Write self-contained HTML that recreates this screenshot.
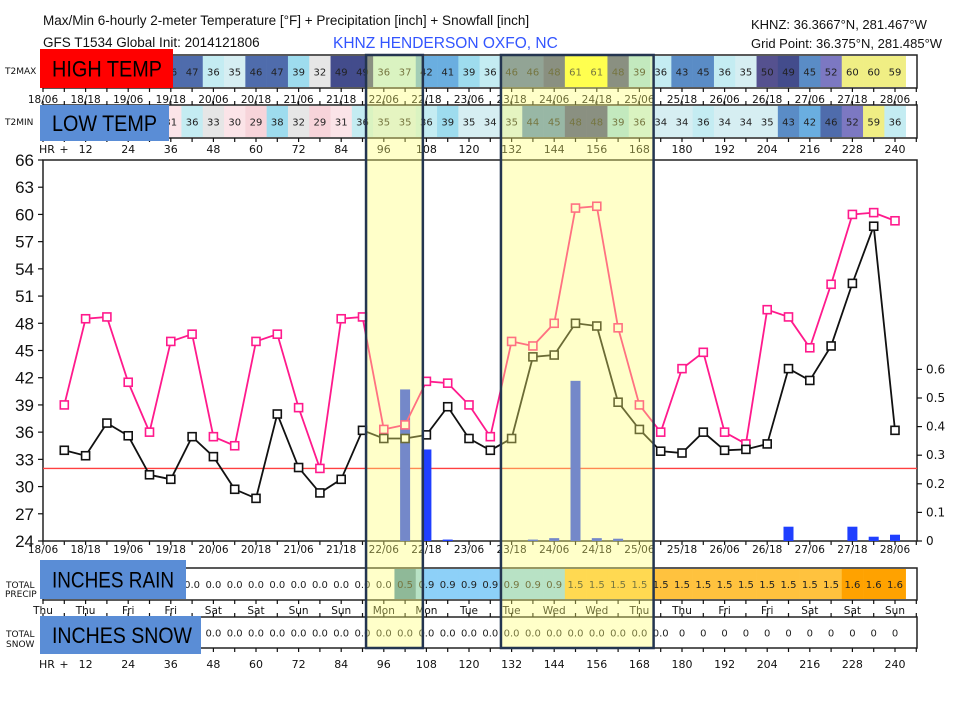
<!DOCTYPE html>
<html><head><meta charset="utf-8">
<style>
html,body{margin:0;padding:0;background:#fff;}
svg{display:block;font-family:"DejaVu Sans","Liberation Sans",sans-serif;}
.lbl{font-family:"Liberation Sans",sans-serif;}
</style></head>
<body>
<svg id="chart" width="960" height="720" viewBox="0 0 960 720">
<text class="lbl" x="43" y="25" font-size="13.5" fill="#111">Max/Min 6-hourly 2-meter Temperature [°F] + Precipitation [inch] + Snowfall [inch]</text>
<text class="lbl" x="43" y="47" font-size="13.5" fill="#111">GFS T1534 Global Init: 2014121806</text>
<line x1="40" y1="50" x2="173" y2="50" stroke="#d00" stroke-width="1.5"/>
<text class="lbl" x="333" y="48" font-size="15.5" fill="#3355ff">KHNZ HENDERSON OXFO, NC</text>
<text class="lbl" x="751" y="29" font-size="13" fill="#111">KHNZ: 36.3667°N, 281.467°W</text>
<text class="lbl" x="751" y="48" font-size="13" fill="#111">Grid Point: 36.375°N, 281.485°W</text>
<g id="g"></g>
</svg>
<script>
const hours=[6,12,18,24,30,36,42,48,54,60,66,72,78,84,90,96,102,108,114,120,126,132,138,144,150,156,162,168,174,180,186,192,198,204,210,216,222,228,234,240];
const tMax=[39,48.5,48.7,41.5,36,46,46.8,35.5,34.5,46,46.8,38.7,32,48.5,48.7,36.3,36.8,41.6,41.4,39,35.5,46,45.5,48,60.7,60.9,47.5,39,36,43,44.8,36,34.7,49.5,48.7,45.3,52.3,60,60.2,59.3];
const tMin=[34,33.4,37,35.6,31.3,30.8,35.5,33.3,29.7,28.7,38,32.1,29.3,30.8,36.2,35.3,35.3,35.7,38.8,35.3,34,35.3,44.3,44.5,48,47.7,39.3,36.3,33.9,33.7,36,34,34.1,34.7,43,41.7,45.5,52.4,58.7,36.2];
const precipTotal=[0,0,0,0,0,0,0,0,0,0,0,0,0,0,0,0,0.5,0.9,0.9,0.9,0.9,0.9,0.9,0.9,1.5,1.5,1.5,1.5,1.5,1.5,1.5,1.5,1.5,1.5,1.5,1.5,1.5,1.6,1.6,1.6];
const snowTotal=[0,0,0,0,0,0,0,0,0,0,0,0,0,0,0,0,0,0,0,0,0,0,0,0,0,0,0,0,0,0,0,0,0,0,0,0,0,0,0,0];
const barHours=[102,108,114,138,144,150,156,162,210,228,234,240];
const barVals=[0.53,0.32,0.005,0.005,0.01,0.56,0.01,0.008,0.05,0.05,0.015,0.022];
const yTicks=[24,27,30,33,36,39,42,45,48,51,54,57,60,63,66];
const pTicks=[0,0.1,0.2,0.3,0.4,0.5,0.6];
const dateLabels=["18/06","18/18","19/06","19/18","20/06","20/18","21/06","21/18","22/06","22/18","23/06","23/18","24/06","24/18","25/06","25/18","26/06","26/18","27/06","27/18","28/06"];
const dayLabels=["Thu","Thu","Fri","Fri","Sat","Sat","Sun","Sun","Mon","Mon","Tue","Tue","Wed","Wed","Thu","Thu","Fri","Fri","Sat","Sat","Sun"];
const highlights=[[91,107],[129,172]];

const NS="http://www.w3.org/2000/svg";
const G=document.getElementById('g');
const X0=43,X1=917,PT=160,PB=541;
const xh=h=>X0+h*3.55;
const yT=t=>PB-(t-24)*(PB-PT)/42;
const yP=p=>PB-p*286;
function mk(tag,attrs,parent){const e=document.createElementNS(NS,tag);for(const k in attrs)e.setAttribute(k,attrs[k]);(parent||G).appendChild(e);return e;}
function txt(x,y,s,size,anchor,fill,parent){const e=mk('text',{x:x,y:y,'font-size':size,'text-anchor':anchor||'middle',fill:fill||'#111'},parent);e.textContent=s;return e;}

function tColor(v){v=Math.round(v);
 if(v<=29)return'#f7d4da';if(v<=31)return'#fbe4e8';if(v<=33)return'#e6e6e6';if(v<=35)return'#d6eef2';
 if(v<=37)return'#c4ecf2';if(v<=40)return'#9edcee';if(v<=42)return'#6aaee0';if(v<=45)return'#5a8cc6';
 if(v<=47)return'#4f6cac';if(v<=49)return'#434c8c';if(v<=51)return'#55518f';if(v<=53)return'#7c78c2';
 if(v<=60)return'#f0ee84';return'#ffff3a';}
function pColor(v){if(v<0.1)return'#ffffff';if(v<0.7)return'#4b8fb0';if(v<1.2)return'#8dd0f8';if(v<1.55)return'#ffc23e';return'#ffa200';}

function strip(y0,h,vals,colorFn,fmt,name){
 const box=mk('rect',{x:X0,y:y0,width:X1-X0,height:h,fill:'#fff',stroke:'#222','stroke-width':1.5});
 
 
 hours.forEach((hr,i)=>{
  const c=mk('rect',{x:xh(hr-3),y:y0+1,width:3.55*6+0.3,height:h-2,fill:colorFn(vals[i])});
  
  
  txt(xh(hr),y0+h/2+4,fmt(vals[i],hr),10,'middle','#222');
 });
}
function ticksRow(y,dir){for(let hr=0;hr<=246;hr+=6){mk('line',{x1:xh(hr),x2:xh(hr),y1:y,y2:y+dir*4,stroke:'#111','stroke-width':1.2});}}

strip(55,33,tMax,tColor,v=>Math.round(v),'t2max');
strip(105,33,tMin,tColor,v=>Math.round(v),'t2min');
strip(568,32,precipTotal,pColor,v=>v.toFixed(1),'precip');
strip(617,31,snowTotal,()=>'#fff',(v,hr)=>hr<=174?v.toFixed(1):'0','snow');
[88,138,541,600,648].forEach(y=>ticksRow(y,1));
[105,617].forEach(y=>ticksRow(y,-1));

txt(5,74,'T2MAX',9,'start');txt(5,125,'T2MIN',9,'start');
txt(6,588,'TOTAL',9,'start');txt(5,597,'PRECIP',9,'start');
txt(6,637,'TOTAL',9,'start');txt(6,647,'SNOW',9,'start');
dateLabels.forEach((s,i)=>{txt(xh(i*12),103,s,10.5);txt(xh(i*12),553,s,10.5);});
dayLabels.forEach((s,i)=>txt(xh(i*12),614,s,10.5));
[149,664].forEach(y=>{txt(39,y+4,'HR',11,'start');txt(64,y+4,'+',11);
 for(let hr=12;hr<=240;hr+=12)txt(xh(hr),y+4,String(hr),11);});

const frame=mk('rect',{x:X0,y:PT,width:X1-X0,height:PB-PT,fill:'#fff',stroke:'#222','stroke-width':1.5});


yTicks.forEach(v=>{mk('line',{x1:X0-5,x2:X0,y1:yT(v),y2:yT(v),stroke:'#111','stroke-width':1.2});
 const t=txt(34,yT(v)+6,String(v),17,'end','#111');t.setAttribute('class','lbl');
 });
pTicks.forEach(v=>{mk('line',{x1:X1,x2:X1+5,y1:yP(v),y2:yP(v),stroke:'#111','stroke-width':1.2});
 const t=txt(926,yP(v)+4,v===0?'0':v.toFixed(1),12,'start','#111');
 });

const fz=mk('line',{x1:X0,x2:X1,y1:yT(32),y2:yT(32),stroke:'#ff4040','stroke-width':1.3});



barHours.forEach((hr,i)=>{
 const b=mk('rect',{x:xh(hr)-5,y:yP(barVals[i]),width:10,height:PB-yP(barVals[i]),fill:'#1f3fff'});
 
 
});

function series(vals,color,name){
 const pts=hours.map((hr,i)=>xh(hr)+','+yT(vals[i])).join(' ');
 const pl=mk('polyline',{points:pts,fill:'none',stroke:color,'stroke-width':1.8});
 
 
 hours.forEach((hr,i)=>{
  const m=mk('rect',{x:xh(hr)-4,y:yT(vals[i])-4,width:8,height:8,fill:'#fff',stroke:color,'stroke-width':1.6});
  
  
 });
}
series(tMax,'#ff1a8c','max-temp');
series(tMin,'#111','min-temp');

highlights.forEach(([a,b])=>{
 const r=mk('rect',{x:xh(a),y:55,width:xh(b)-xh(a),height:593,fill:'#ffff70','fill-opacity':0.38,stroke:'#243550','stroke-width':2.5});
 
 
});

function labelBox(x,y,w,h,fill,s,tw,name){
 const r=mk('rect',{x:x,y:y,width:w,height:h,fill:fill});
 
 
 const t=txt(x+12,y+h/2+8,s,22,'start','#000');t.setAttribute('class','lbl');
 t.setAttribute('textLength',tw);t.setAttribute('lengthAdjust','spacingAndGlyphs');
}
labelBox(40,49,133,39,'#ff0000','HIGH TEMP',110,'high-temp-label');
labelBox(40,105,129,36,'#5a8dd6','LOW TEMP',105,'low-temp-label');
labelBox(40,560,146,39,'#5a8dd6','INCHES RAIN',122,'inches-rain-label');
labelBox(40,616,161,38,'#5a8dd6','INCHES SNOW',140,'inches-snow-label');
</script>
</body></html>
